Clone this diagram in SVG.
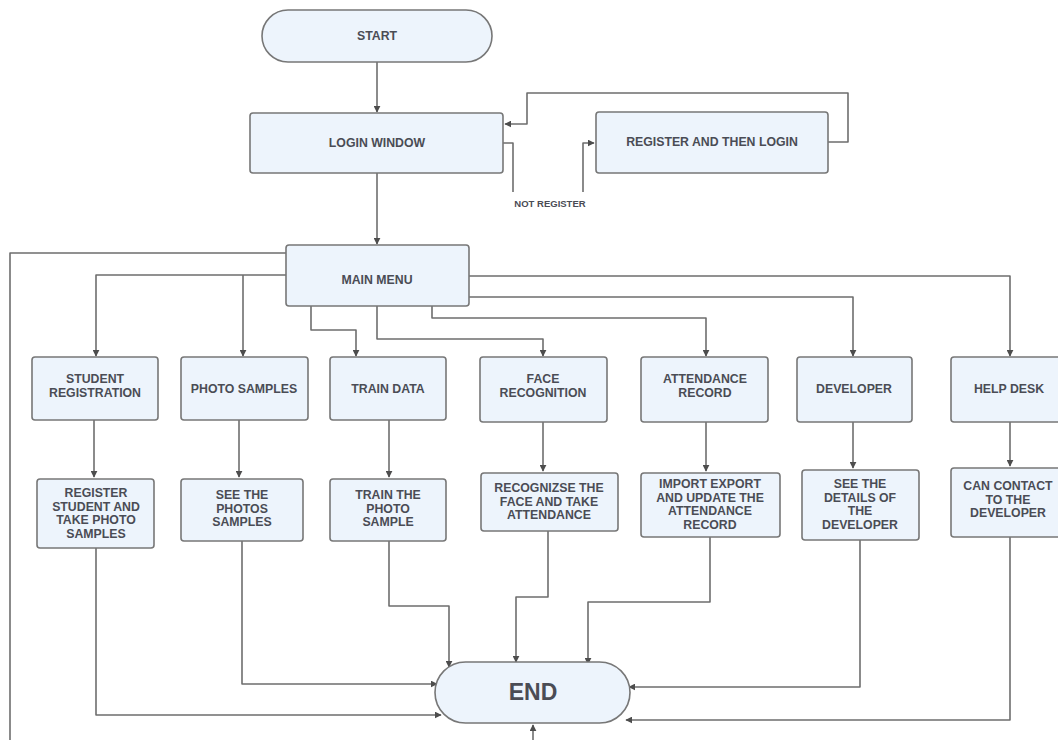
<svg xmlns="http://www.w3.org/2000/svg" width="1058" height="740" viewBox="0 0 1058 740">
<defs>
<marker id="arr" viewBox="0 0 10 10" refX="9" refY="5" markerWidth="7" markerHeight="7" markerUnits="userSpaceOnUse" orient="auto">
<path d="M0,0 L10,5 L0,10 z" fill="#4d4d4d"/>
</marker>
<style>
.box{fill:#edf4fc;stroke:#777;stroke-width:1.6}
.t{font-family:"Liberation Sans",Arial,sans-serif;font-weight:bold;font-size:12.3px;fill:#4a4c55;text-anchor:middle}
.c{fill:none;stroke:#6e6e6e;stroke-width:1.6;stroke-linejoin:round}
.a{marker-end:url(#arr)}
</style>
</defs>
<rect width="1058" height="740" fill="#ffffff"/>

<g id="connectors">
<path class="c a" d="M377,62 V112"/>
<path class="c a" d="M377,173 V244"/>
<path class="c a" d="M828,142 H848 V93 H527 V124 H505"/>
<path class="c" d="M503,143 H513 V192"/>
<path class="c a" d="M583,192 V143 H594"/>
<path class="c" d="M287,253 H10 V740"/>
<path class="c a" d="M533,740 V725"/>
<path class="c a" d="M287,275 H96 V356"/>
<path class="c a" d="M243,275 V356"/>
<path class="c a" d="M311,306 V330 H356 V356"/>
<path class="c a" d="M377,306 V339 H543 V356"/>
<path class="c a" d="M432,306 V318 H706 V356"/>
<path class="c a" d="M469,297 H853 V356"/>
<path class="c a" d="M469,276 H1010 V356"/>
<path class="c a" d="M94,420 V477"/>
<path class="c a" d="M239,420 V477"/>
<path class="c a" d="M389,420 V477"/>
<path class="c a" d="M543,422 V471"/>
<path class="c a" d="M706,422 V471"/>
<path class="c a" d="M853,422 V468"/>
<path class="c a" d="M1010,422 V466"/>
<path class="c a" d="M96,548 V715 H441"/>
<path class="c a" d="M242,541 V684 H437"/>
<path class="c a" d="M389,541 V606 H449 V667"/>
<path class="c a" d="M548,531 V597 H516 V662"/>
<path class="c a" d="M710,537 V602 H588 V664"/>
<path class="c a" d="M860,540 V687 H629"/>
<path class="c a" d="M1010,537 V720 H626"/>
</g>

<g id="start">
<rect class="box" x="262" y="10" width="230" height="52" rx="26"/>
<text class="t" x="377" y="40">START</text>
</g>
<g id="login">
<rect class="box" x="250" y="113" width="253" height="60" rx="3"/>
<text class="t" x="377" y="147">LOGIN WINDOW</text>
</g>
<g id="register">
<rect class="box" x="596" y="112" width="232" height="61" rx="3"/>
<text class="t" x="712" y="146">REGISTER AND THEN LOGIN</text>
</g>
<g id="not-register-label">
<text class="t" x="550" y="207" style="font-size:9.5px">NOT REGISTER</text>
</g>
<g id="main-menu">
<rect class="box" x="286" y="245" width="183" height="61" rx="3"/>
<text class="t" x="377" y="284">MAIN MENU</text>
</g>

<g id="student-registration">
<rect class="box" x="32" y="357" width="126" height="63" rx="3"/>
<text class="t" x="95" y="383">STUDENT</text>
<text class="t" x="95" y="397">REGISTRATION</text>
</g>
<g id="photo-samples">
<rect class="box" x="181" y="357" width="127" height="63" rx="3"/>
<text class="t" x="244" y="393">PHOTO SAMPLES</text>
</g>
<g id="train-data">
<rect class="box" x="330" y="357" width="116" height="63" rx="3"/>
<text class="t" x="388" y="393">TRAIN DATA</text>
</g>
<g id="face-recognition">
<rect class="box" x="480" y="357" width="127" height="65" rx="3"/>
<text class="t" x="543" y="383">FACE</text>
<text class="t" x="543" y="397">RECOGNITION</text>
</g>
<g id="attendance-record">
<rect class="box" x="641" y="357" width="127" height="65" rx="3"/>
<text class="t" x="705" y="383">ATTENDANCE</text>
<text class="t" x="705" y="397">RECORD</text>
</g>
<g id="developer">
<rect class="box" x="797" y="357" width="115" height="65" rx="3"/>
<text class="t" x="854" y="393">DEVELOPER</text>
</g>
<g id="help-desk">
<rect class="box" x="951" y="357" width="112" height="65" rx="3"/>
<text class="t" x="1009" y="393">HELP DESK</text>
</g>

<g id="register-student">
<rect class="box" x="37" y="479" width="117" height="69" rx="3"/>
<text class="t" x="96" y="497">REGISTER</text>
<text class="t" x="96" y="510.5">STUDENT AND</text>
<text class="t" x="96" y="524">TAKE PHOTO</text>
<text class="t" x="96" y="537.5">SAMPLES</text>
</g>
<g id="see-photos">
<rect class="box" x="181" y="479" width="122" height="62" rx="3"/>
<text class="t" x="242" y="499">SEE THE</text>
<text class="t" x="242" y="512.5">PHOTOS</text>
<text class="t" x="242" y="526">SAMPLES</text>
</g>
<g id="train-photo">
<rect class="box" x="330" y="479" width="116" height="62" rx="3"/>
<text class="t" x="388" y="499">TRAIN THE</text>
<text class="t" x="388" y="512.5">PHOTO</text>
<text class="t" x="388" y="526">SAMPLE</text>
</g>
<g id="recognize-face">
<rect class="box" x="481" y="473" width="137" height="58" rx="3"/>
<text class="t" x="549" y="492">RECOGNIZSE THE</text>
<text class="t" x="549" y="505.5">FACE AND TAKE</text>
<text class="t" x="549" y="519">ATTENDANCE</text>
</g>
<g id="import-export">
<rect class="box" x="641" y="473" width="139" height="64" rx="3"/>
<text class="t" x="710" y="488">IMPORT EXPORT</text>
<text class="t" x="710" y="501.5">AND UPDATE THE</text>
<text class="t" x="710" y="515">ATTENDANCE</text>
<text class="t" x="710" y="528.5">RECORD</text>
</g>
<g id="developer-details">
<rect class="box" x="802" y="470" width="117" height="70" rx="3"/>
<text class="t" x="860" y="488">SEE THE</text>
<text class="t" x="860" y="501.5">DETAILS OF</text>
<text class="t" x="860" y="515">THE</text>
<text class="t" x="860" y="528.5">DEVELOPER</text>
</g>
<g id="contact-developer">
<rect class="box" x="951" y="468" width="112" height="69" rx="3"/>
<text class="t" x="1008" y="490">CAN CONTACT</text>
<text class="t" x="1008" y="503.5">TO THE</text>
<text class="t" x="1008" y="517">DEVELOPER</text>
</g>

<g id="end">
<rect class="box" x="435" y="662" width="195" height="61" rx="30.5"/>
<text class="t" x="533" y="700" style="font-size:23px">END</text>
</g>
</svg>
